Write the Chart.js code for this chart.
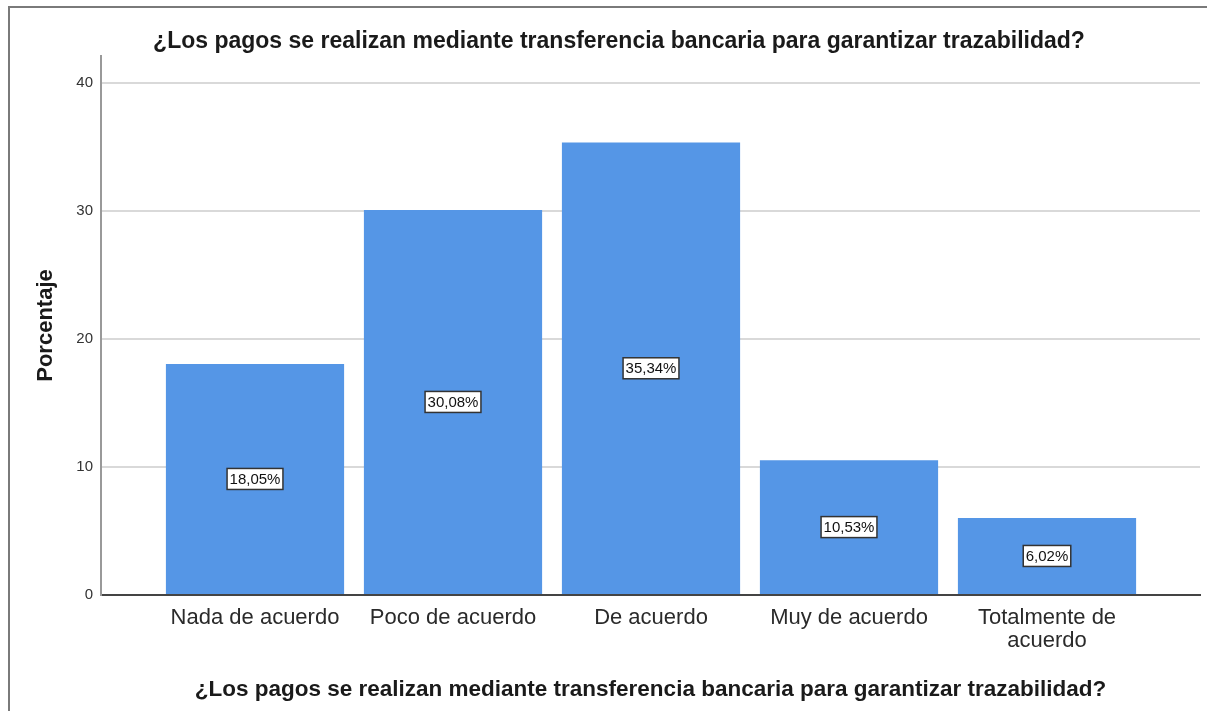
<!DOCTYPE html>
<html>
<head>
<meta charset="utf-8">
<script src="https://cdn.jsdelivr.net/npm/chart.js@4/dist/chart.umd.min.js"></script>
<style>
    html, body { margin: 0; padding: 0; background: #fff; overflow: hidden; }
    #cadre { position: absolute; left: 8px; top: 6px; width: 1300px; height: 800px; border: 2px solid #7a7a7a; }
    #zone { position: absolute; left: 0; top: 0; width: 1207px; height: 711px; }
</style>
</head>
<body>
<div id="cadre"></div>
<div id="zone"><canvas id="GraphiquePaiements" width="1207" height="711"></canvas></div>
<script>
var titre = "¿Los pagos se realizan mediante transferencia bancaria para garantizar trazabilidad?";
var categories = ["Nada de acuerdo", "Poco de acuerdo", "De acuerdo", "Muy de acuerdo", ["Totalmente de", "acuerdo"]];
var pourcentages = [18.05, 30.08, 35.34, 10.53, 6.02];
var etiquettes = ["18,05%", "30,08%", "35,34%", "10,53%", "6,02%"];
var graduationsY = [0, 10, 20, 30, 40];

function GetPoints(valeurs) {
    var points = [];
    var i = 0;
    while (i < valeurs.length) {
        points.push({ x: i, y: valeurs[i] });
        i++;
    }
    return points;
}

// titre principal, dessine a la main pour garder la position
var pluginTitre = {
    id: 'titrePrincipal',
    afterDraw: function (chart) {
        var ctx = chart.ctx;
        ctx.save();
        ctx.font = "bold 23px 'Liberation Sans', Arial, sans-serif";
        ctx.fillStyle = "#1a1a1a";
        ctx.textAlign = "center";
        ctx.textBaseline = "middle";
        ctx.fillText(titre, 619, 42);
        ctx.restore();
    }
};

// petites boites blanches avec le pourcentage au milieu des barres
var pluginEtiquettes = {
    id: 'etiquettesBarres',
    afterDatasetsDraw: function (chart) {
        var ctx = chart.ctx;
        var meta = chart.getDatasetMeta(0);
        ctx.save();
        ctx.font = "15px 'Liberation Sans', Arial, sans-serif";
        ctx.textAlign = "center";
        ctx.textBaseline = "middle";
        meta.data.forEach(function (barre, i) {
            var texte = etiquettes[i];
            var cx = barre.x;
            var cy = (barre.y + barre.base) / 2;
            var l = ctx.measureText(texte).width + 5;
            var h = 21;
            ctx.fillStyle = "#ffffff";
            ctx.fillRect(cx - l / 2, cy - h / 2, l, h);
            ctx.lineWidth = 1.5;
            ctx.strokeStyle = "#333333";
            ctx.strokeRect(cx - l / 2, cy - h / 2, l, h);
            ctx.fillStyle = "#111111";
            ctx.fillText(texte, cx, cy + 1);
        });
        ctx.restore();
    }
};

var ctx = document.getElementById('GraphiquePaiements').getContext('2d');

var graphique = new Chart(ctx, {
    type: 'bar',
    data: {
        datasets: [
            {
                label: "Porcentaje",
                backgroundColor: "#5596e6",
                borderWidth: 0,
                data: GetPoints(pourcentages),
                categoryPercentage: 1,
                barPercentage: 0.9
            }
        ]
    },
    options: {
        responsive: false,
        animation: false,
        layout: { padding: { left: 9, right: 7, top: 56, bottom: 0 } },
        plugins: {
            legend: { display: false },
            tooltip: { enabled: false },
            title: { display: false }
        },
        scales: {
            x: {
                type: 'linear',
                offset: false,
                min: -0.7778,
                max: 4.7727,
                afterBuildTicks: function (scale) {
                    scale.ticks = categories.map(function (c, i) { return { value: i }; });
                },
                afterFit: function (scale) { scale.height = 116; },
                grid: { display: false, drawTicks: false, offset: false },
                border: { color: "#444444", width: 2 },
                ticks: {
                    autoSkip: false,
                    maxRotation: 0,
                    padding: 11,
                    color: "#2a2a2a",
                    font: { family: "'Liberation Sans', Arial, sans-serif", size: 22, lineHeight: 1.05 },
                    callback: function (v) { return categories[v]; }
                },
                title: {
                    display: true,
                    text: titre,
                    color: "#1a1a1a",
                    padding: { top: 0, bottom: 8 },
                    font: { family: "'Liberation Sans', Arial, sans-serif", size: 22.5, weight: 'bold' }
                }
            },
            y: {
                min: 0,
                max: 42.1,
                afterBuildTicks: function (scale) {
                    scale.ticks = graduationsY.map(function (v) { return { value: v }; });
                },
                afterFit: function (scale) { scale.width = 92; },
                grid: { color: "#d9d9d9", lineWidth: 2, drawTicks: false },
                border: { color: "#999999", width: 2 },
                ticks: {
                    padding: 8,
                    color: "#333333",
                    font: { family: "'Liberation Sans', Arial, sans-serif", size: 15 }
                },
                title: {
                    display: true,
                    text: "Porcentaje",
                    color: "#1a1a1a",
                    padding: { top: 24, bottom: 0 },
                    font: { family: "'Liberation Sans', Arial, sans-serif", size: 22, weight: 'bold' }
                }
            }
        }
    },
    plugins: [pluginTitre, pluginEtiquettes]
});
</script>
</body>
</html>
